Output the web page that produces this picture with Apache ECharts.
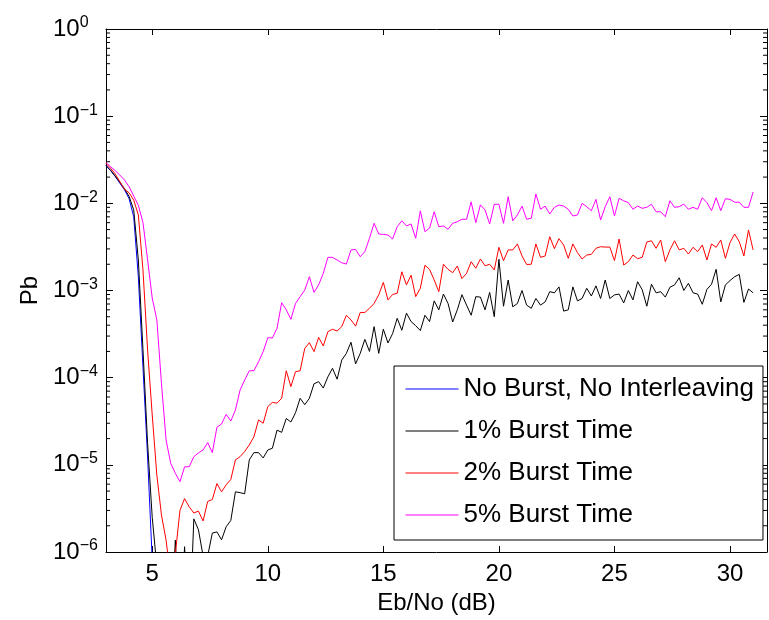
<!DOCTYPE html>
<html>
<head>
<meta charset="utf-8">
<script src="https://cdn.jsdelivr.net/npm/echarts@6/dist/echarts.min.js"></script>
<style>
  html, body { margin: 0; padding: 0; background: #fff; }
  #main { width: 769px; height: 620px; }
</style>
</head>
<body>
<div id="main"></div>
<script>
// Eb/No grid: 3 dB to 31 dB, 0.2 dB step
var ebnoStart = 3, ebnoStep = 0.2, ebnoCount = 141;

var seriesNames = ['No Burst, No Interleaving', '1% Burst Time', '2% Burst Time', '5% Burst Time'];
var seriesColors = ['#0000ff', '#000000', '#ff0000', '#ff00ff'];

// no burst (only down to 5 dB, then below 1e-6)
var pbNoBurst = [2.7e-2, 2.37e-2, 2.03e-2, 1.7e-2, 1.43e-2, 1.13e-2, 7.0e-3, 1.43e-3, 1.32e-4, 1.23e-5, 8.1e-7];

// 1% burst
var pbBurst1 = [
  2.72e-2, 2.4e-2, 2.05e-2, 1.75e-2, 1.47e-2, 1.2e-2, 8.4e-3, 2.24e-3, 2.1e-4, 1.75e-5,
  2.5e-6, 6.8e-7, 1e-7, 1e-7, 1e-7, 1.37e-6, 1e-7, 1.15e-6, 1e-7, 2.4e-6,
  1.8e-6, 9e-7, 9e-7, 1.65e-6, 1.7e-6, 1.38e-6, 1.95e-6, 2.3e-6, 4.9e-6, 4.8e-6,
  4.65e-6, 1.14e-5, 1.38e-5, 1.38e-5, 1.2e-5, 1.48e-5, 1.55e-5, 2.5e-5, 2.36e-5, 3.4e-5,
  3.1e-5, 3.96e-5, 5.8e-5, 4.9e-5, 5.8e-5, 8.5e-5, 9.0e-5, 7.6e-5, 1.02e-4, 1.28e-4,
  9.6e-5, 1.59e-4, 1.9e-4, 2.55e-4, 1.44e-4, 1.9e-4, 2.75e-4, 2.0e-4, 3.85e-4, 1.9e-4,
  3.6e-4, 2.5e-4, 3.2e-4, 4.8e-4, 3.5e-4, 5.5e-4, 4.4e-4, 3.95e-4, 3.47e-4, 5.2e-4,
  4.4e-4, 7.6e-4, 6.0e-4, 9.1e-4, 7.1e-4, 4.35e-4, 6.0e-4, 8.95e-4, 6.8e-4, 5.2e-4,
  8.5e-4, 8.4e-4, 6.0e-4, 9.5e-4, 5.0e-4, 2.28e-3, 6.6e-4, 1.32e-3, 6.5e-4, 7.1e-4,
  1.0e-3, 6.8e-4, 6.25e-4, 8.1e-4, 6.8e-4, 7.4e-4, 9.7e-4, 9.4e-4, 1.1e-3, 5.8e-4,
  6.0e-4, 1.1e-3, 7.6e-4, 8.1e-4, 1.06e-3, 8.65e-4, 1.13e-3, 8.1e-4, 1.32e-3, 8.1e-4,
  8.9e-4, 9.1e-4, 7.2e-4, 1.0e-3, 7.8e-4, 1.26e-3, 1.02e-3, 6.6e-4, 1.18e-3, 9.4e-4,
  9.7e-4, 8.4e-4, 1.09e-3, 1.16e-3, 1.4e-3, 1.0e-3, 1.21e-3, 9.4e-4, 9.1e-4, 6.95e-4,
  1.03e-3, 1.18e-3, 1.75e-3, 7.4e-4, 1.16e-3, 1.3e-3, 1.44e-3, 1.53e-3, 7.3e-4, 1.04e-3,
  9.4e-4
];

// 2% burst
var pbBurst2 = [
  2.88e-2, 2.52e-2, 2.17e-2, 1.77e-2, 1.45e-2, 1.32e-2, 1.09e-2, 7.35e-3, 1.72e-3, 2.07e-4,
  3.73e-5, 7.6e-6, 2.66e-6, 1.37e-6, 5e-7, 9.5e-7, 3.0e-6, 4.1e-6, 3.3e-6, 2.8e-6,
  2.95e-6, 2.27e-6, 3.8e-6, 4.0e-6, 6.1e-6, 4.9e-6, 5.9e-6, 6.8e-6, 1.14e-5, 1.24e-5,
  1.42e-5, 1.69e-5, 2.1e-5, 3.27e-5, 3.0e-5, 4.65e-5, 5.2e-5, 5.1e-5, 5.8e-5, 1.2e-4,
  7.9e-5, 1.17e-4, 1.2e-4, 2.17e-4, 2.52e-4, 1.99e-4, 2.9e-4, 2.31e-4, 3.37e-4, 3.59e-4,
  3.43e-4, 3.85e-4, 5.2e-4, 4.6e-4, 3.9e-4, 5.6e-4, 5.6e-4, 6.25e-4, 7.1e-4, 8.9e-4,
  1.24e-3, 7.8e-4, 9.0e-4, 9.3e-4, 1.64e-3, 1.16e-3, 1.5e-3, 8.5e-4, 1.06e-3, 1.95e-3,
  1.75e-3, 1.32e-3, 9.7e-4, 2.0e-3, 1.75e-3, 1.6e-3, 1.91e-3, 1.37e-3, 1.57e-3, 2.14e-3,
  1.8e-3, 2.3e-3, 1.92e-3, 2.0e-3, 1.72e-3, 3.13e-3, 2.2e-3, 2.92e-3, 2.92e-3, 3.42e-3,
  2.49e-3, 1.99e-3, 2.0e-3, 3.42e-3, 2.4e-3, 2.49e-3, 4.14e-3, 3.02e-3, 3.93e-3, 3.33e-3,
  2.34e-3, 3.42e-3, 2.72e-3, 2.3e-3, 2.55e-3, 2.6e-3, 3.05e-3, 3.18e-3, 3.15e-3, 3.15e-3,
  2.2e-3, 3.9e-3, 1.96e-3, 2.14e-3, 2.55e-3, 2.32e-3, 2.4e-3, 3.6e-3, 3.72e-3, 3.05e-3,
  3.8e-3, 2.14e-3, 2.92e-3, 3.72e-3, 2.92e-3, 3.05e-3, 2.62e-3, 3.13e-3, 2.79e-3, 3.33e-3,
  2.24e-3, 3.42e-3, 3.13e-3, 3.8e-3, 2.34e-3, 3.55e-3, 4.45e-3, 3.63e-3, 2.49e-3, 4.95e-3,
  2.92e-3
];

// 5% burst
var pbBurst5 = [
  2.93e-2, 2.63e-2, 2.37e-2, 2.11e-2, 1.85e-2, 1.55e-2, 1.21e-2, 9.5e-3, 6.0e-3, 2.24e-3,
  8.2e-4, 4.6e-4, 8.6e-5, 1.93e-5, 1.04e-5, 8.0e-6, 6.4e-6, 9.5e-6, 9.5e-6, 1.24e-5,
  1.37e-5, 1.48e-5, 1.8e-5, 1.38e-5, 2.7e-5, 2.94e-5, 3.8e-5, 3.18e-5, 4.26e-5, 7.2e-5,
  9.4e-5, 1.2e-4, 1.2e-4, 1.52e-4, 1.99e-4, 2.87e-4, 2.85e-4, 3.68e-4, 7.24e-4, 6.0e-4,
  4.67e-4, 7.1e-4, 8.5e-4, 1.01e-3, 1.44e-3, 9.5e-4, 1.16e-3, 1.57e-3, 2.4e-3, 2.4e-3,
  2.24e-3, 2.08e-3, 2.01e-3, 2.92e-3, 2.95e-3, 2.44e-3, 2.79e-3, 3.97e-3, 5.9e-3, 4.45e-3,
  4.4e-3, 4.33e-3, 3.9e-3, 5.4e-3, 6.3e-3, 5.5e-3, 5.8e-3, 3.97e-3, 8.2e-3, 4.73e-3,
  5.2e-3, 8.0e-3, 5.4e-3, 5.5e-3, 5.04e-3, 5.9e-3, 6.15e-3, 6.56e-3, 6.56e-3, 1.04e-2,
  6.0e-3, 9.6e-3, 8.4e-3, 5.8e-3, 9.75e-3, 9.75e-3, 5.9e-3, 1.19e-2, 6.3e-3, 7.35e-3,
  9.3e-3, 6.56e-3, 6.74e-3, 1.28e-2, 8.55e-3, 9.3e-3, 7.55e-3, 9.0e-3, 9.57e-3, 9.3e-3,
  8.55e-3, 7.16e-3, 7.35e-3, 1.0e-2, 9.15e-3, 8.23e-3, 1.11e-2, 6.44e-3, 9.15e-3, 1.19e-2,
  7.16e-3, 1.14e-2, 1.07e-2, 1.02e-2, 8.55e-3, 9.3e-3, 8.77e-3, 9.0e-3, 9.75e-3, 8.0e-3,
  8.0e-3, 7.03e-3, 1.07e-2, 9.0e-3, 9.15e-3, 9.8e-3, 8.55e-3, 9.0e-3, 8.55e-3, 1.16e-2,
  1.02e-2, 8.23e-3, 1.16e-2, 8.23e-3, 1.13e-2, 1.11e-2, 1.03e-2, 1.03e-2, 9.0e-3, 9.0e-3,
  1.35e-2
];

var fontName = 'Liberation Sans';

var ebno = [];
for (var i = 0; i < ebnoCount; i++) {
  ebno.push(+(ebnoStart + ebnoStep * i).toFixed(1));
}

function toPairs(vals) {
  var out = [];
  for (var i = 0; i < vals.length; i++) {
    out.push([ebno[i], vals[i]]);
  }
  return out;
}

// minor tick positions on the log axis (2..9 in every decade)
var minorTicks = [];
for (var e = -6; e < 0; e++) {
  for (var m = 2; m <= 9; m++) {
    minorTicks.push([ebnoStart, m * Math.pow(10, e)]);
  }
}

function expLabel(value) {
  var p = Math.round(Math.log(value) / Math.LN10);
  var s = p < 0 ? '\u2212' + (-p) : '' + p;
  return '10{sup|' + s + '}';
}

var axisBlack = { lineStyle: { color: '#000', width: 1 } };

var chart = echarts.init(document.getElementById('main'));

var series = [];
var allData = [pbNoBurst, pbBurst1, pbBurst2, pbBurst5];
for (var k = 0; k < allData.length; k++) {
  series.push({
    name: seriesNames[k],
    type: 'line',
    data: toPairs(allData[k]),
    symbol: 'none',
    clip: true,
    animation: false,
    lineStyle: { color: seriesColors[k], width: 1 },
    itemStyle: { color: seriesColors[k] },
    z: 2 + k
  });
}

// little inward minor ticks on left and right side
series.push({
  type: 'custom',
  data: minorTicks,
  silent: true,
  animation: false,
  z: 10,
  renderItem: function (params, api) {
    var y = api.coord([ebnoStart, api.value(1)])[1];
    var cs = params.coordSys;
    return {
      type: 'group',
      children: [
        { type: 'line', shape: { x1: cs.x, y1: y, x2: cs.x + 4, y2: y }, style: { stroke: '#000', lineWidth: 1 } },
        { type: 'line', shape: { x1: cs.x + cs.width, y1: y, x2: cs.x + cs.width - 4, y2: y }, style: { stroke: '#000', lineWidth: 1 } }
      ]
    };
  }
});

var option = {
  backgroundColor: '#fff',
  animation: false,
  textStyle: { fontFamily: fontName, color: '#000' },
  grid: { left: 106, right: 2, top: 29, bottom: 68 },
  legend: {
    data: seriesNames,
    orient: 'vertical',
    left: 394,
    top: 366,
    itemWidth: 53,
    itemHeight: 14,
    itemGap: 16,
    itemTextGap: 6,
    padding: [10, 9, 12, 11],
    borderColor: '#000',
    borderWidth: 1,
    borderRadius: 0,
    backgroundColor: '#fff',
    itemStyle: { opacity: 0 },
    lineStyle: { width: 1 },
    textStyle: { fontFamily: fontName, fontSize: 26, color: '#000', lineHeight: 26 },
    z: 20
  },
  xAxis: [{
    type: 'value',
    min: 3,
    max: 31.6,
    name: 'Eb/No (dB)',
    nameLocation: 'middle',
    nameGap: 37,
    nameTextStyle: { fontFamily: fontName, fontSize: 24, color: '#000' },
    axisLine: axisBlack,
    axisTick: { inside: true, length: 6, lineStyle: { color: '#000' } },
    axisLabel: { fontFamily: fontName, fontSize: 24, color: '#000', margin: 10, showMinLabel: false, showMaxLabel: false },
    splitLine: { show: false }
  }, {
    type: 'value',
    position: 'top',
    min: 3,
    max: 31.6,
    axisLine: axisBlack,
    axisTick: { inside: true, length: 6, lineStyle: { color: '#000' } },
    axisLabel: { show: false },
    splitLine: { show: false }
  }],
  yAxis: [{
    type: 'log',
    logBase: 10,
    min: 1e-6,
    max: 1,
    splitNumber: 6,
    name: 'Pb',
    nameLocation: 'middle',
    nameGap: 60,
    nameTextStyle: { fontFamily: fontName, fontSize: 24, color: '#000' },
    axisLine: axisBlack,
    axisTick: { inside: true, length: 7, lineStyle: { color: '#000' } },
    axisLabel: {
      align: 'left',
      margin: 53,
      formatter: expLabel,
      fontFamily: fontName,
      fontSize: 24,
      color: '#000',
      lineHeight: 28,
      rich: {
        sup: { fontFamily: fontName, fontSize: 16, color: '#000', verticalAlign: 'top', lineHeight: 14 }
      }
    },
    splitLine: { show: false }
  }, {
    type: 'log',
    logBase: 10,
    min: 1e-6,
    max: 1,
    splitNumber: 6,
    position: 'right',
    axisLine: axisBlack,
    axisTick: { inside: true, length: 7, lineStyle: { color: '#000' } },
    axisLabel: { show: false },
    splitLine: { show: false }
  }],
  series: series
};

chart.setOption(option);
</script>
</body>
</html>
